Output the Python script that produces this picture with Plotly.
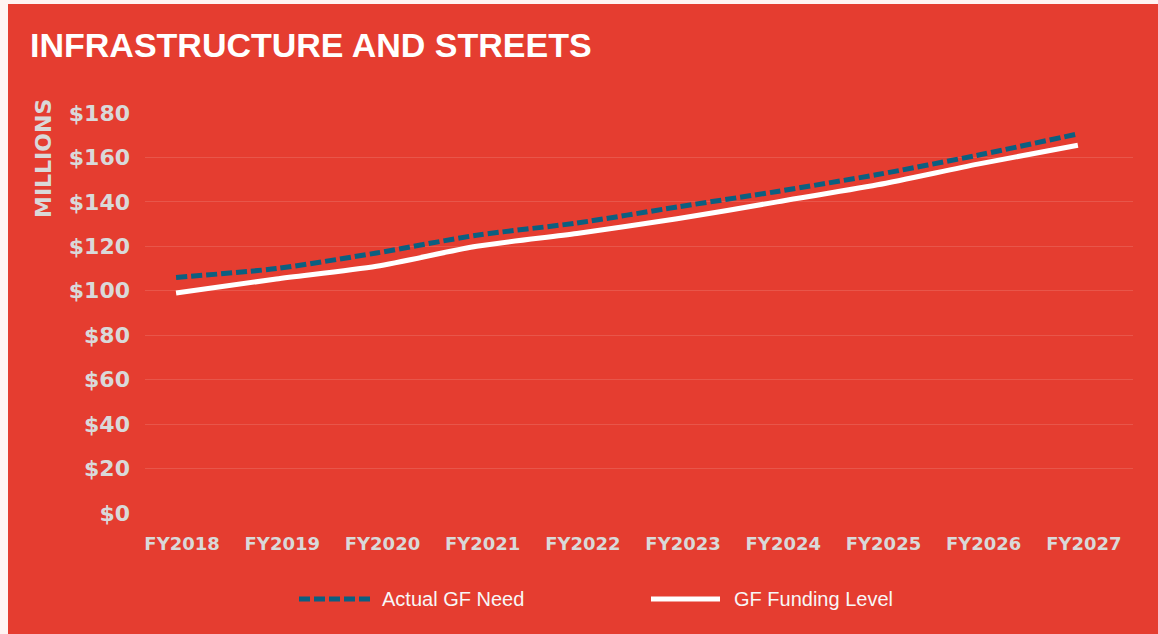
import plotly.graph_objects as go

years = ["FY2018", "FY2019", "FY2020", "FY2021", "FY2022",
         "FY2023", "FY2024", "FY2025", "FY2026", "FY2027"]
actual_need = [106, 110, 117, 125, 130.5, 137.7, 144.7, 152.3, 161, 170.6]
funding_level = [99, 105.3, 111, 120, 125.8, 132.4, 140, 147.7, 157, 165.5]
y_ticks = [0, 20, 40, 60, 80, 100, 120, 140, 160, 180]
y_tick_labels = ["$" + str(v) for v in y_ticks]

RED = "#E53D30"
BLUE = "#0C5F80"
GREY = "#D9D9D9"
PALE = "#FFF4F2"

# plot-area geometry in pixels (for decoration placement)
L, R, T, B = 145, 25, 113, 121
W, H = 1158, 634
PW, PH = W - L - R, H - T - B


def px_x(x):
    return (x - L) / PW


def px_y(y):
    return (H - B - y) / PH


fig = go.Figure()
fig.add_trace(go.Scatter(
    x=years, y=actual_need, mode="lines", name="Actual GF Need",
    line=dict(color=BLUE, width=5, dash="11px,4px", shape="spline", smoothing=0.7),
    showlegend=False,
))
fig.add_trace(go.Scatter(
    x=years, y=funding_level, mode="lines", name="GF Funding Level",
    line=dict(color="white", width=5, shape="spline", smoothing=0.7),
    showlegend=False,
))

shapes = [
    # pale page strips
    dict(type="rect", xref="paper", yref="paper", x0=px_x(-20), x1=px_x(8),
         y0=px_y(H + 20), y1=px_y(-20), fillcolor=PALE, line=dict(width=0), layer="below"),
    dict(type="rect", xref="paper", yref="paper", x0=px_x(-20), x1=px_x(W + 20),
         y0=px_y(4), y1=px_y(-20), fillcolor=PALE, line=dict(width=0), layer="below"),
    # legend samples
    dict(type="line", xref="paper", yref="paper", x0=px_x(299), x1=px_x(371),
         y0=px_y(599), y1=px_y(599), line=dict(color=BLUE, width=5, dash="11px,4px")),
    dict(type="line", xref="paper", yref="paper", x0=px_x(651), x1=px_x(720),
         y0=px_y(599), y1=px_y(599), line=dict(color="white", width=5)),
]

annotations = [
    dict(text="MILLIONS", xref="paper", yref="paper", x=px_x(43), y=px_y(159),
         textangle=-90, showarrow=False, xanchor="center", yanchor="middle",
         font=dict(family="DejaVu Sans", size=22, color=GREY, weight="bold")),
    dict(text="Actual GF Need", xref="paper", yref="paper", x=px_x(380), y=px_y(599),
         showarrow=False, xanchor="left", yanchor="middle",
         font=dict(family="Liberation Sans", size=20, color="#F7F7F7")),
    dict(text="GF Funding Level", xref="paper", yref="paper", x=px_x(732), y=px_y(599),
         showarrow=False, xanchor="left", yanchor="middle",
         font=dict(family="Liberation Sans", size=20, color="#F7F7F7")),
]

fig.update_layout(
    width=W, height=H, autosize=False,
    margin=dict(l=L, r=R, t=T, b=B, pad=0),
    paper_bgcolor=RED, plot_bgcolor="rgba(0,0,0,0)",
    title=dict(text="INFRASTRUCTURE AND STREETS", x=30 / W, xanchor="left",
               xref="container", y=1 - 45 / H, yanchor="middle", yref="container",
               font=dict(family="Liberation Sans", size=34, color="white", weight="bold")),
    shapes=shapes, annotations=annotations,
    showlegend=False,
    xaxis=dict(type="category", categoryorder="array", categoryarray=years,
               range=[-0.31, 9.55], showgrid=False, zeroline=False, showline=False,
               ticks="", ticklabelstandoff=18, ticklabelshift=6,
               tickfont=dict(family="DejaVu Sans", size=18, color=GREY, weight="bold")),
    yaxis=dict(range=[0, 180], tickmode="array", tickvals=y_ticks, ticktext=y_tick_labels,
               showgrid=True, gridcolor="rgba(255,255,255,0.13)", gridwidth=1,
               zeroline=False, showline=False, ticks="", ticklabelstandoff=14,
               tickfont=dict(family="DejaVu Sans", size=22, color=GREY, weight="bold")),
)

fig.write_html(
    "out.html", config={"displayModeBar": False},
    post_script=(
        "document.body.style.margin='0';"
        "document.body.style.overflow='hidden';"
        "document.body.style.background='" + RED + "';"
        "document.documentElement.style.background='" + RED + "';"
    ),
)
